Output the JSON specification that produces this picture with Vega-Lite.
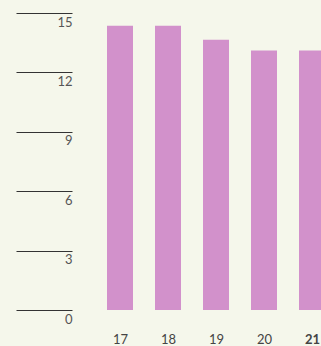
{
  "$schema": "https://vega.github.io/schema/vega-lite/v6.json",
  "autosize": {"type": "none"},
  "padding": {"left": 72, "top": 13, "right": 0, "bottom": 36},
  "width": 249,
  "height": 297,
  "background": "#f5f7eb",
  "config": {"view": {"stroke": null}, "font": "Lato"},
  "data": {"values": [
    {"age": 17, "value": 14.35},
    {"age": 18, "value": 14.35},
    {"age": 19, "value": 13.65},
    {"age": 20, "value": 13.1},
    {"age": 21, "value": 13.1}
  ]},
  "mark": {"type": "bar", "width": 26, "color": "#d291cb", "clip": true},
  "encoding": {
    "x": {
      "field": "age", "type": "quantitative",
      "scale": {"domain": [16, 21.1875], "nice": false, "zero": false, "padding": 0},
      "axis": {
        "title": null, "values": [17, 18, 19, 20, 21], "grid": false, "domain": false, "ticks": false,
        "labelPadding": 23, "labelBaseline": "top", "labelFontSize": 13, "labelColor": "#444",
        "labelFontWeight": {"condition": {"test": "datum.value == 21", "value": "bold"}, "value": "normal"},
        "labelFlush": false
      }
    },
    "y": {
      "field": "value", "type": "quantitative",
      "scale": {"domain": [0, 15], "nice": false},
      "axis": {
        "title": null, "values": [0, 3, 6, 9, 12, 15], "grid": false, "domain": false,
        "tickSize": 56, "tickColor": "#333", "tickWidth": 1,
        "labelPadding": -56, "labelAlign": "right", "labelBaseline": "top", "labelOffset": 3,
        "labelFontSize": 13, "labelColor": "#555", "labelFlush": false
      }
    }
  }
}
